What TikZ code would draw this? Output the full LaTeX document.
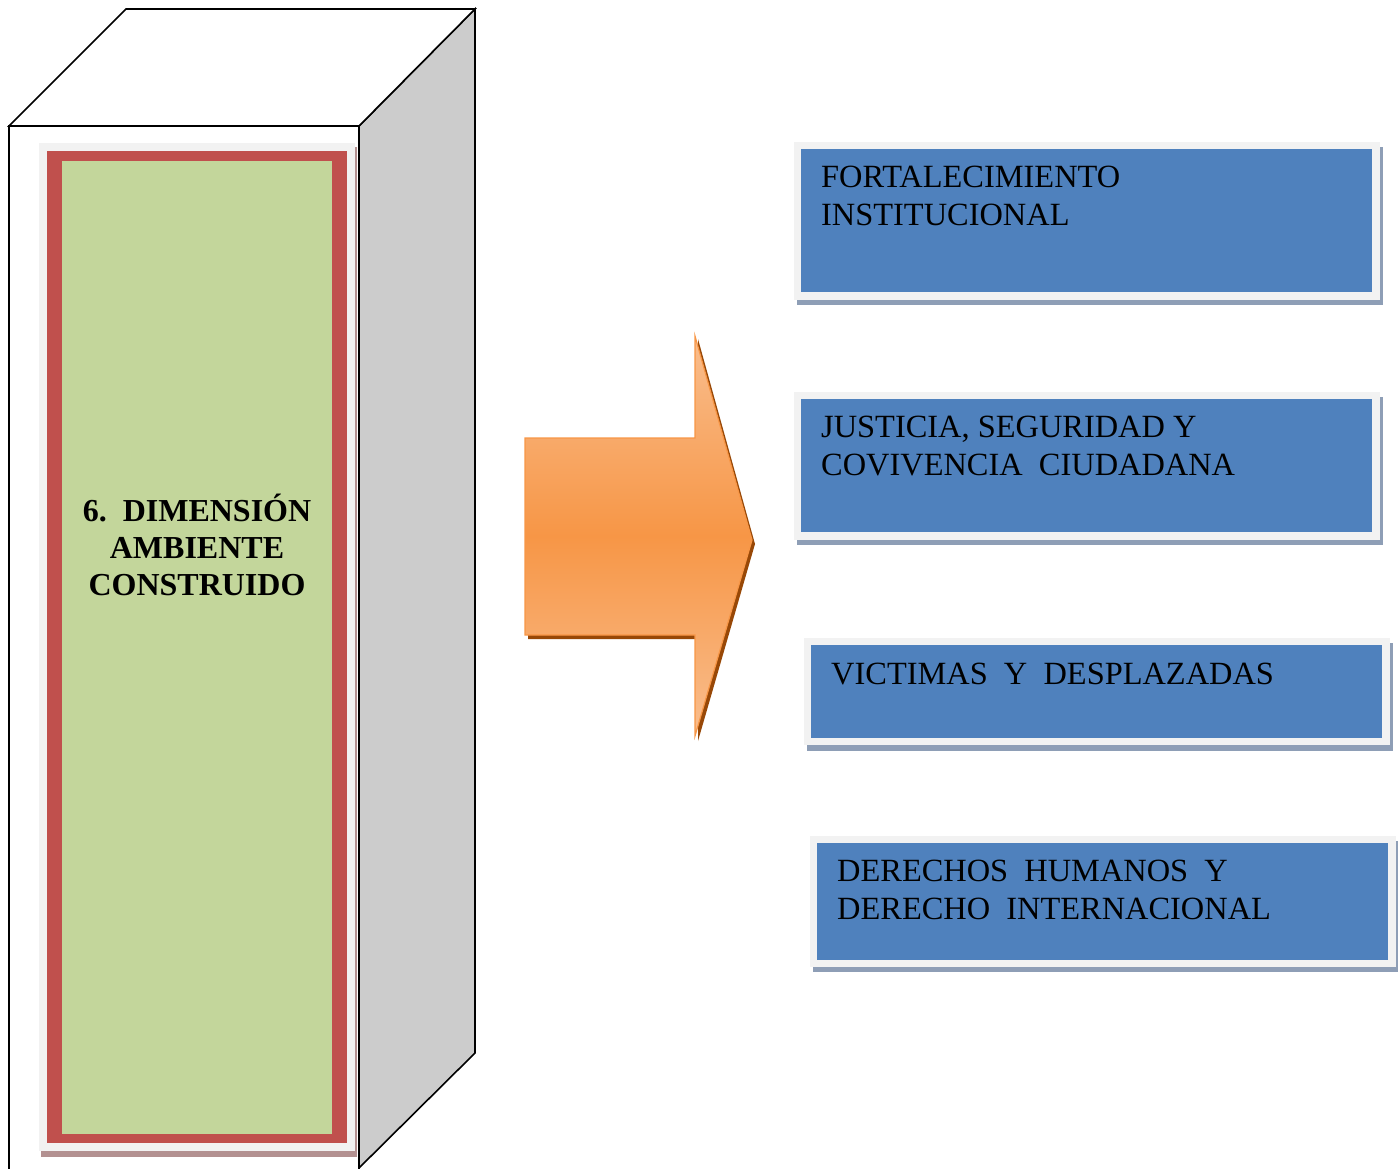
\documentclass[tikz,border=0pt]{standalone}
\usepackage{fontspec}
\setmainfont{Liberation Serif}
\definecolor{boxblue}{HTML}{4F81BD}
\definecolor{frame}{HTML}{F2F2F2}
\definecolor{boxshadow}{HTML}{8E9EB6}
\definecolor{colred}{HTML}{C0504D}
\definecolor{colgreen}{HTML}{C3D69B}
\definecolor{colshadow}{HTML}{B39191}
\definecolor{sidegray}{HTML}{CCCCCC}
\definecolor{orMid}{HTML}{F79646}
\definecolor{orLight}{HTML}{F9BE8E}
\definecolor{orShadow}{HTML}{984807}
\begin{document}
\begin{tikzpicture}[x=1pt,y=-1pt,
  edge/.style={draw=black, line width=1.6pt},
  framebox/.style={fill=frame, draw=none, anchor=north west, inner sep=0pt},
  bluebox/.style={fill=boxblue, draw=none, anchor=north west, inner sep=0pt},
  shadowbox/.style={fill=boxshadow, draw=none, anchor=north west, inner sep=0pt},
  lab/.style={anchor=north west, inner sep=0pt, align=left, font=\fontsize{32.4}{38}\selectfont},
  coltext/.style={inner sep=0pt, align=center, font=\fontsize{32}{37}\selectfont\bfseries}]
\useasboundingbox (0,0) rectangle (1398,1168);
% ---- column (box in perspective)
\path[edge, fill=white] (9,1180) -- (9,126) -- (359,126) -- (359,1180);
\path[edge, fill=sidegray] (359,126) -- (475,9) -- (475,1053) -- (359,1168) -- cycle;
\path[edge, fill=white] (9,126) -- (126,9) -- (475,9) -- (359,126) -- cycle;
\fill[colshadow] (41,147) rectangle (357,1157);
\fill[frame] (39,143) rectangle (355,1151);
\fill[colred] (47,151) rectangle (347,1143);
\fill[colgreen] (62,161) rectangle (332,1134);
\node[coltext] (dim) at (197,545) {6.\ \ DIMENSIÓN\\AMBIENTE\\CONSTRUIDO};
% ---- arrow
\fill[orShadow] (528,442) -- (698,442) -- (698,339) -- (755,544) -- (698,741) -- (698,639) -- (528,639) -- cycle;
\shade[top color=orLight, bottom color=orLight, middle color=orMid, draw=orMid, line width=1.2pt]
  (525,438) -- (695,438) -- (695,336) -- (752,540) -- (695,736) -- (695,635) -- (525,635) -- cycle;
% ---- boxes
\node[shadowbox, minimum width=586pt, minimum height=158pt] (s1) at (797,147) {};
\node[framebox, minimum width=586pt, minimum height=158pt] (f1) at (794,142) {};
\node[bluebox, minimum width=571pt, minimum height=143pt] (b1) at (801,149) {};
\node[lab] (t1) at (821,166) {FORTALECIMIENTO\\INSTITUCIONAL};

\node[shadowbox, minimum width=586pt, minimum height=148pt] (s2) at (797,397) {};
\node[framebox, minimum width=586pt, minimum height=148pt] (f2) at (794,392) {};
\node[bluebox, minimum width=571pt, minimum height=133pt] (b2) at (801,399) {};
\node[lab] (t2) at (821,416) {JUSTICIA, SEGURIDAD Y\\COVIVENCIA\ \ CIUDADANA};

\node[shadowbox, minimum width=586pt, minimum height=108pt] (s3) at (807,643) {};
\node[framebox, minimum width=586pt, minimum height=107pt] (f3) at (804,638) {};
\node[bluebox, minimum width=571pt, minimum height=93pt] (b3) at (811,645) {};
\node[lab] (t3) at (831,663) {VICTIMAS\ \ Y\ \ DESPLAZADAS};

\node[shadowbox, minimum width=586pt, minimum height=131pt] (s4) at (813,841) {};
\node[framebox, minimum width=586pt, minimum height=131pt] (f4) at (810,836) {};
\node[bluebox, minimum width=571pt, minimum height=117pt] (b4) at (817,843) {};
\node[lab] (t4) at (837,860) {DERECHOS\ \ HUMANOS\ \ Y\\DERECHO\ \ INTERNACIONAL};
\end{tikzpicture}
\end{document}
